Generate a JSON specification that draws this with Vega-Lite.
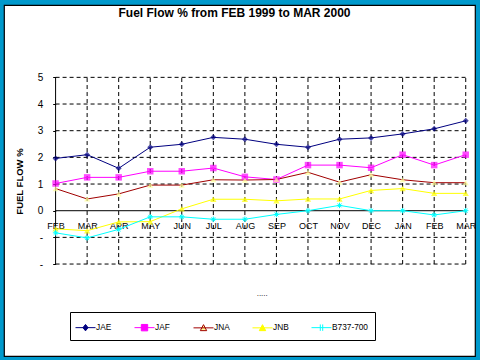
{
  "$schema": "https://vega.github.io/schema/vega-lite/v6.json",
  "width": 480,
  "height": 360,
  "autosize": {"type": "fit", "contains": "padding"},
  "padding": {"left": 4, "top": 5, "right": 4, "bottom": 4},
  "background": "#0099CC",
  "config": {
    "view": {"fill": "white", "stroke": "black", "strokeWidth": 1.2},
    "font": "Liberation Sans, Arial",
    "axisX": {"labelOverlap": false, "labelFlush": false}
  },
  "title": {
    "text": "Fuel Flow %  from FEB 1999 to MAR 2000",
    "font": "Liberation Sans, Arial",
    "fontSize": 12,
    "fontWeight": "bold",
    "color": "black",
    "anchor": "middle",
    "baseline": "alphabetic",
    "offset": -24,
    "dx": -5
  },
  "datasets": {
    "series": [
      {"s": "JAE", "i": 0, "v": 1.96}, {"s": "JAE", "i": 1, "v": 2.1}, {"s": "JAE", "i": 2, "v": 1.59}, {"s": "JAE", "i": 3, "v": 2.38}, {"s": "JAE", "i": 4, "v": 2.49}, {"s": "JAE", "i": 5, "v": 2.75}, {"s": "JAE", "i": 6, "v": 2.68}, {"s": "JAE", "i": 7, "v": 2.49}, {"s": "JAE", "i": 8, "v": 2.38}, {"s": "JAE", "i": 9, "v": 2.68}, {"s": "JAE", "i": 10, "v": 2.73}, {"s": "JAE", "i": 11, "v": 2.88}, {"s": "JAE", "i": 12, "v": 3.07}, {"s": "JAE", "i": 13, "v": 3.37},
      {"s": "JAF", "i": 0, "v": 1.02}, {"s": "JAF", "i": 1, "v": 1.25}, {"s": "JAF", "i": 2, "v": 1.25}, {"s": "JAF", "i": 3, "v": 1.48}, {"s": "JAF", "i": 4, "v": 1.48}, {"s": "JAF", "i": 5, "v": 1.6}, {"s": "JAF", "i": 6, "v": 1.27}, {"s": "JAF", "i": 7, "v": 1.17}, {"s": "JAF", "i": 8, "v": 1.71}, {"s": "JAF", "i": 9, "v": 1.71}, {"s": "JAF", "i": 10, "v": 1.61}, {"s": "JAF", "i": 11, "v": 2.1}, {"s": "JAF", "i": 12, "v": 1.71}, {"s": "JAF", "i": 13, "v": 2.1},
      {"s": "JNA", "i": 0, "v": 0.83}, {"s": "JNA", "i": 1, "v": 0.44}, {"s": "JNA", "i": 2, "v": 0.63}, {"s": "JNA", "i": 3, "v": 0.96}, {"s": "JNA", "i": 4, "v": 0.96}, {"s": "JNA", "i": 5, "v": 1.16}, {"s": "JNA", "i": 6, "v": 1.15}, {"s": "JNA", "i": 7, "v": 1.17}, {"s": "JNA", "i": 8, "v": 1.44}, {"s": "JNA", "i": 9, "v": 1.07}, {"s": "JNA", "i": 10, "v": 1.35}, {"s": "JNA", "i": 11, "v": 1.16}, {"s": "JNA", "i": 12, "v": 1.05}, {"s": "JNA", "i": 13, "v": 1.05},
      {"s": "JNB", "i": 0, "v": -0.68}, {"s": "JNB", "i": 1, "v": -0.75}, {"s": "JNB", "i": 2, "v": -0.42}, {"s": "JNB", "i": 3, "v": -0.41}, {"s": "JNB", "i": 4, "v": 0.07}, {"s": "JNB", "i": 5, "v": 0.43}, {"s": "JNB", "i": 6, "v": 0.43}, {"s": "JNB", "i": 7, "v": 0.37}, {"s": "JNB", "i": 8, "v": 0.44}, {"s": "JNB", "i": 9, "v": 0.44}, {"s": "JNB", "i": 10, "v": 0.76}, {"s": "JNB", "i": 11, "v": 0.83}, {"s": "JNB", "i": 12, "v": 0.65}, {"s": "JNB", "i": 13, "v": 0.65},
      {"s": "B737-700", "i": 0, "v": -0.83}, {"s": "B737-700", "i": 1, "v": -1.02}, {"s": "B737-700", "i": 2, "v": -0.7}, {"s": "B737-700", "i": 3, "v": -0.23}, {"s": "B737-700", "i": 4, "v": -0.23}, {"s": "B737-700", "i": 5, "v": -0.32}, {"s": "B737-700", "i": 6, "v": -0.32}, {"s": "B737-700", "i": 7, "v": -0.14}, {"s": "B737-700", "i": 8, "v": 0.0}, {"s": "B737-700", "i": 9, "v": 0.2}, {"s": "B737-700", "i": 10, "v": 0.0}, {"s": "B737-700", "i": 11, "v": 0.0}, {"s": "B737-700", "i": 12, "v": -0.16}, {"s": "B737-700", "i": 13, "v": 0.0}
    ],
    "hgrid": [{"v": -2}, {"v": -1}, {"v": 1}, {"v": 2}, {"v": 3}, {"v": 4}, {"v": 5}],
    "vgrid": [{"i": 1}, {"i": 2}, {"i": 3}, {"i": 4}, {"i": 5}, {"i": 6}, {"i": 7}, {"i": 8}, {"i": 9}, {"i": 10}, {"i": 11}, {"i": 12}, {"i": 13}]
  },
  "layer": [
    {
      "data": {"name": "hgrid"},
      "mark": {"type": "rule", "color": "black", "strokeWidth": 1, "strokeDash": [4, 3]},
      "encoding": {
        "y": {"field": "v", "type": "quantitative", "scale": {"domain": [-5.448, 7.713], "nice": false, "zero": false}},
        "x": {"datum": 0, "type": "quantitative", "scale": {"domain": [-1.635, 13.294], "nice": false, "zero": false}},
        "x2": {"datum": 13}
      }
    },
    {
      "data": {"name": "vgrid"},
      "mark": {"type": "rule", "color": "black", "strokeWidth": 1, "strokeDash": [4, 3]},
      "encoding": {
        "x": {"field": "i", "type": "quantitative", "scale": {"domain": [-1.635, 13.294], "nice": false, "zero": false}},
        "y": {"datum": -2, "type": "quantitative", "scale": {"domain": [-5.448, 7.713], "nice": false, "zero": false}},
        "y2": {"datum": 5}
      }
    },
    {
      "data": {"values": [{}]},
      "mark": {"type": "rule", "color": "black", "strokeWidth": 1},
      "encoding": {
        "y": {"datum": 0, "type": "quantitative", "scale": {"domain": [-5.448, 7.713], "nice": false, "zero": false}},
        "x": {"datum": 0, "type": "quantitative", "scale": {"domain": [-1.635, 13.294], "nice": false, "zero": false}},
        "x2": {"datum": 13}
      }
    },
    {
      "data": {"values": [{}]},
      "mark": {"type": "rule", "color": "black", "strokeWidth": 1},
      "encoding": {
        "x": {"datum": 0, "type": "quantitative", "scale": {"domain": [-1.635, 13.294], "nice": false, "zero": false}},
        "y": {"datum": -2, "type": "quantitative", "scale": {"domain": [-5.448, 7.713], "nice": false, "zero": false}},
        "y2": {"datum": 5}
      }
    },
    {
      "data": {"name": "series"},
      "mark": {"type": "line", "strokeWidth": 1},
      "encoding": {
        "x": {
          "field": "i", "type": "quantitative",
          "scale": {"domain": [-1.635, 13.294], "nice": false, "zero": false},
          "axis": {
            "orient": "bottom", "offset": -145.3, "values": [0, 1, 2, 3, 4, 5, 6, 7, 8, 9, 10, 11, 12, 13], "tickCount": 14,
            "labelExpr": "['FEB','MAR','APR','MAY','JUN','JUL','AUG','SEP','OCT','NOV','DEC','JAN','FEB','MAR'][datum.value]",
            "domain": false, "ticks": false, "grid": false, "title": null,
            "labelPadding": 11, "labelAngle": 0, "labelFlush": false, "labelOverlap": false, "labelSeparation": 0,
            "labelFontSize": 9, "labelColor": "black", "labelFont": "Liberation Sans, Arial"
          }
        },
        "y": {
          "field": "v", "type": "quantitative",
          "scale": {"domain": [-5.448, 7.713], "nice": false, "zero": false},
          "axis": {
            "orient": "left", "offset": -51.7, "values": [-2, -1, 0, 1, 2, 3, 4, 5],
            "labelExpr": "datum.value < 0 ? '-' : datum.label",
            "domain": false, "grid": false, "ticks": true, "tickSize": 3, "tickColor": "black", "tickWidth": 1,
            "labelPadding": 10, "labelFontSize": 10, "labelColor": "black", "labelFont": "Liberation Sans, Arial",
            "title": "FUEL FLOW %", "titleFont": "Liberation Sans, Arial", "titleFontSize": 9.5, "titleFontWeight": "bold", "titleColor": "black",
            "titleX": -36, "titleY": 176, "titleAlign": "center", "titleBaseline": "middle", "titleAngle": -90
          }
        },
        "color": {
          "field": "s", "type": "nominal",
          "scale": {"domain": ["JAE", "JAF", "JNA", "JNB", "B737-700"], "range": ["#000080", "#FF00FF", "#A00000", "#FFFF00", "#00FFFF"]},
          "legend": {
            "orient": "none", "legendX": 66, "legendY": 307, "direction": "horizontal", "columns": 5, "gridAlign": "all",
            "title": null, "strokeColor": "black", "fillColor": "white", "padding": 7,
            "symbolSize": 256, "symbolStrokeWidth": 1, "labelOffset": 2, "columnPadding": 0,
            "labelFont": "Liberation Sans, Arial", "labelFontSize": 8.3, "labelColor": "black",
            "encode": {
              "symbols": {
                "update": {
                  "shape": {"signal": "datum.value === 'JAE' ? 'M-1.25,0H1.25M-0.32,0L0,-0.4L0.32,0L0,0.4Z' : datum.value === 'JAF' ? 'M-1.25,0H1.25M-0.4,-0.4H0.4V0.4H-0.4Z' : datum.value === 'B737-700' ? 'M-1.25,0H1.25M-0.15,-0.4V0.4M0.15,-0.4V0.4' : 'M-1.25,0H1.25M-0.4,0.35L0,-0.4L0.4,0.35Z'"},
                  "fill": {"signal": "datum.value === 'JAE' ? '#000080' : datum.value === 'JAF' ? '#FF00FF' : datum.value === 'JNA' ? '#FFFF99' : datum.value === 'JNB' ? '#FFFF00' : '#00FFFF'"},
                  "opacity": {"value": 1}
                }
              }
            }
          }
        }
      }
    },
    {
      "data": {"name": "series"},
      "transform": [{"filter": "datum.s === 'JAE'"}],
      "mark": {"type": "point", "filled": true, "shape": "diamond", "size": 36, "color": "#000080"},
      "encoding": {
        "x": {"field": "i", "type": "quantitative", "scale": {"domain": [-1.635, 13.294], "nice": false, "zero": false}},
        "y": {"field": "v", "type": "quantitative", "scale": {"domain": [-5.448, 7.713], "nice": false, "zero": false}}
      }
    },
    {
      "data": {"name": "series"},
      "transform": [{"filter": "datum.s === 'JAF'"}],
      "mark": {"type": "point", "filled": true, "shape": "square", "size": 42, "color": "#FF00FF"},
      "encoding": {
        "x": {"field": "i", "type": "quantitative", "scale": {"domain": [-1.635, 13.294], "nice": false, "zero": false}},
        "y": {"field": "v", "type": "quantitative", "scale": {"domain": [-5.448, 7.713], "nice": false, "zero": false}}
      }
    },
    {
      "data": {"name": "series"},
      "transform": [{"filter": "datum.s === 'JNA'"}],
      "mark": {"type": "point", "filled": true, "shape": "triangle-up", "size": 36, "color": "#FFFF99"},
      "encoding": {
        "x": {"field": "i", "type": "quantitative", "scale": {"domain": [-1.635, 13.294], "nice": false, "zero": false}},
        "y": {"field": "v", "type": "quantitative", "scale": {"domain": [-5.448, 7.713], "nice": false, "zero": false}}
      }
    },
    {
      "data": {"name": "series"},
      "transform": [{"filter": "datum.s === 'JNB'"}],
      "mark": {"type": "point", "filled": true, "shape": "triangle-up", "size": 40, "color": "#FFFF00"},
      "encoding": {
        "x": {"field": "i", "type": "quantitative", "scale": {"domain": [-1.635, 13.294], "nice": false, "zero": false}},
        "y": {"field": "v", "type": "quantitative", "scale": {"domain": [-5.448, 7.713], "nice": false, "zero": false}}
      }
    },
    {
      "data": {"name": "series"},
      "transform": [{"filter": "datum.s === 'B737-700'"}],
      "mark": {"type": "point", "filled": false, "shape": "M0,-1V1M-0.7,-0.7L0.7,0.7M-0.7,0.7L0.7,-0.7M-1,0H1", "size": 30, "strokeWidth": 1, "color": "#00FFFF", "opacity": 1},
      "encoding": {
        "x": {"field": "i", "type": "quantitative", "scale": {"domain": [-1.635, 13.294], "nice": false, "zero": false}},
        "y": {"field": "v", "type": "quantitative", "scale": {"domain": [-5.448, 7.713], "nice": false, "zero": false}}
      }
    },
    {
      "data": {"values": [{}]},
      "mark": {"type": "text", "text": ".....", "fontSize": 8, "color": "black"},
      "encoding": {
        "x": {"datum": 6.55, "type": "quantitative", "scale": {"domain": [-1.635, 13.294], "nice": false, "zero": false}},
        "y": {"datum": -3.14, "type": "quantitative", "scale": {"domain": [-5.448, 7.713], "nice": false, "zero": false}}
      }
    }
  ]
}
